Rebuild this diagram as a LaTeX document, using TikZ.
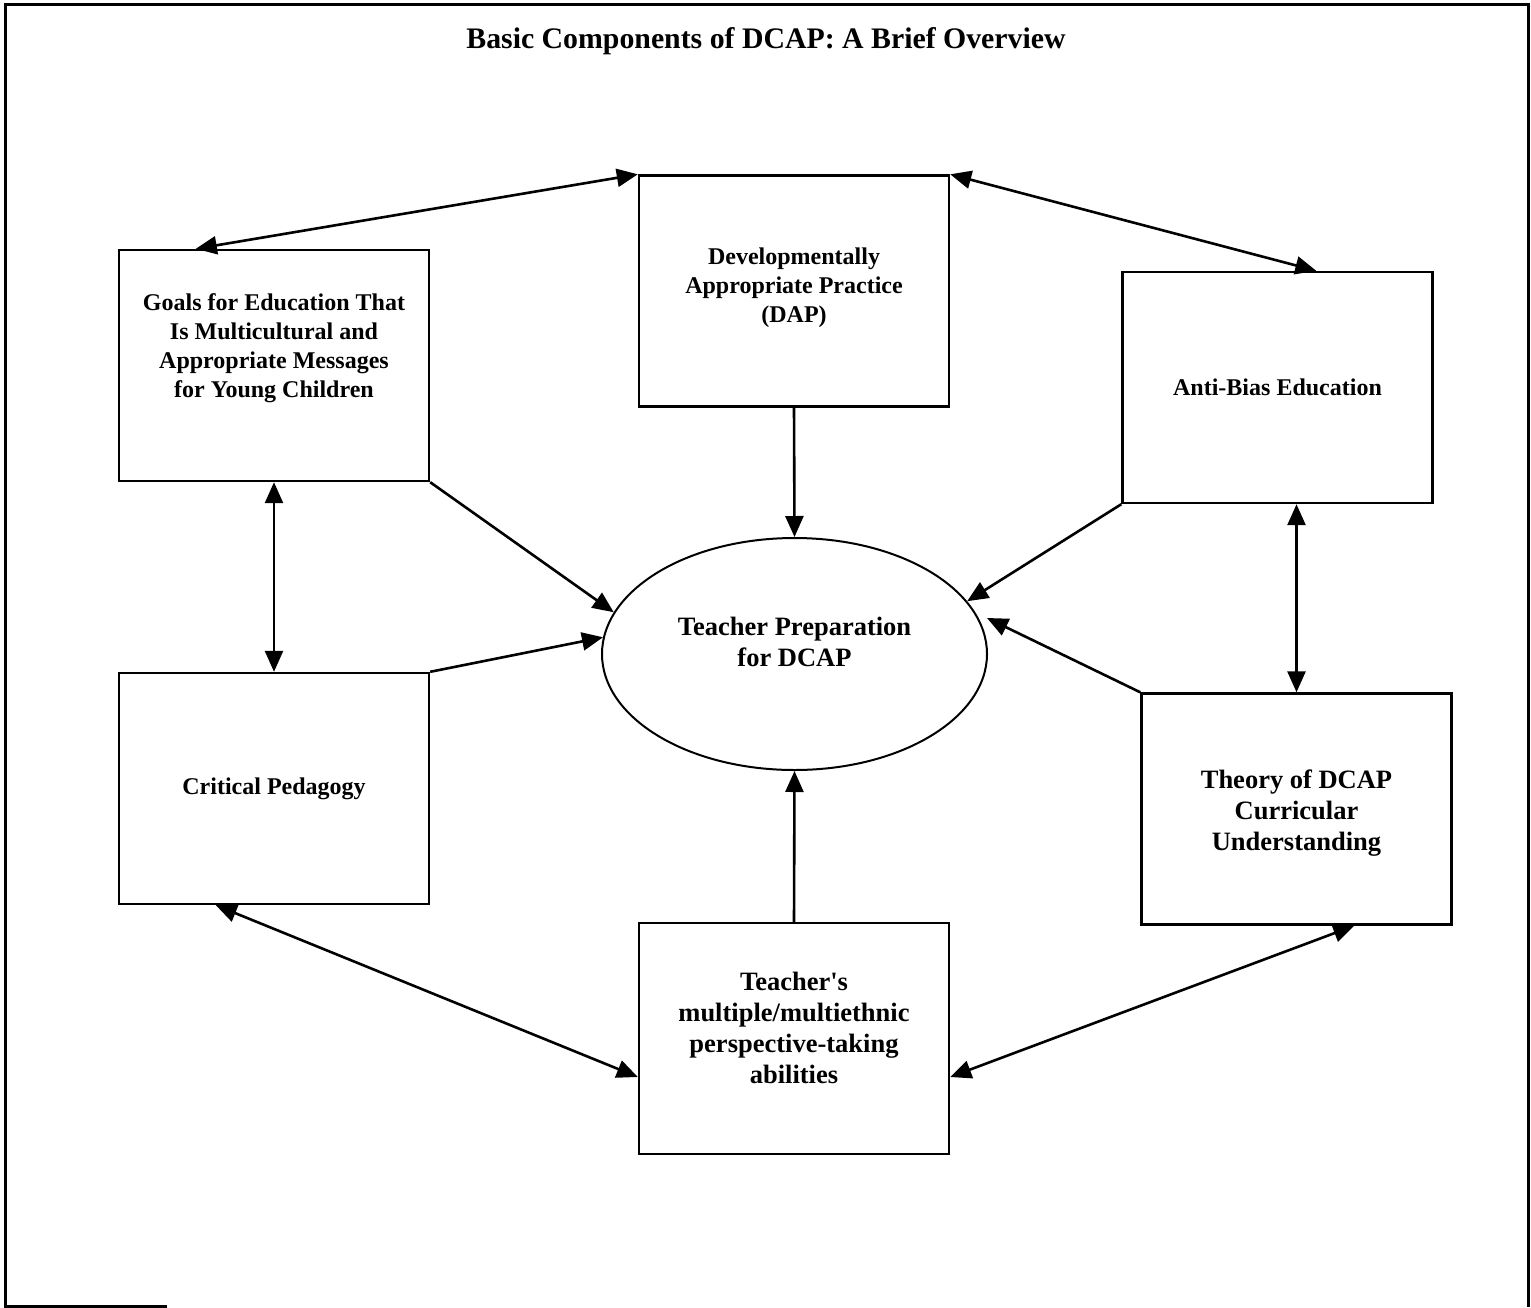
\documentclass[tikz,border=0pt]{standalone}
\usepackage{fontspec}
\setmainfont{Liberation Serif}
\usetikzlibrary{arrows.meta,shapes.geometric,calc}
\begin{document}
\begin{tikzpicture}[x=1pt,y=-1pt,
  box/.style={draw,line width=2.4pt,minimum width=310pt,minimum height=231pt,inner sep=0pt},
  sm/.style={font=\fontsize{24}{29}\selectfont\bfseries,align=center},
  lg/.style={font=\fontsize{26.5}{31}\selectfont\bfseries,align=center},
  arr/.style={line width=2.6pt,-{Triangle[length=21pt,width=18pt]}},
  darr/.style={line width=2.6pt,{Triangle[length=21pt,width=18pt]}-{Triangle[length=21pt,width=18pt]}}]

\useasboundingbox (0,0) rectangle (1531,1307);
\draw[line width=3pt] (167,1306) -- (5,1306) -- (5,4) -- (1528.5,4) -- (1528.5,1307);

\node[font=\fontsize{29.8}{34}\selectfont\bfseries] (title) at (766,41) {Basic Components of DCAP: A Brief Overview};

\node[box, label={[sm,yshift=17pt]center:{Goals for Education That\\Is Multicultural and\\Appropriate Messages\\for Young Children}}] (goals) at (274,365.5) {};
\node[box, label={[sm,yshift=3pt]center:{Developmentally\\Appropriate Practice\\(DAP)}}] (dap) at (794,291) {};
\node[box, label={[sm]center:{Anti-Bias Education}}] (ab) at (1277.5,387.5) {};
\node[box, label={[sm]center:{Critical Pedagogy}}] (crit) at (274,788.5) {};
\node[box, label={[lg,yshift=-4pt]center:{Theory of DCAP\\Curricular\\Understanding}}] (theory) at (1296.5,809) {};
\node[box, label={[lg,yshift=11pt]center:{Teacher\textquotesingle s\\multiple/multiethnic\\perspective-taking\\abilities}}] (teach) at (794,1038.5) {};
\node[ellipse, draw, line width=2pt, minimum width=385pt, minimum height=232pt, inner sep=0pt,
  label={[lg,yshift=12pt]center:{Teacher Preparation\\for DCAP}}] (ell) at (794.5,654) {};

\coordinate (tipT) at (987,618);

\draw[darr] ([xshift=78pt]goals.north west) -- (dap.north west);
\draw[darr] (dap.north east) -- ([xshift=195pt]ab.north west);
\draw[arr] (dap.south) -- (ell.north);
\draw[arr] (goals.south east) -- (ell.167.5);
\draw[arr] (crit.north east) -- (ell.175);
\draw[arr] (ab.south west) -- (ell.17.9);
\draw[arr] (theory.north west) -- (tipT);
\draw[darr] (goals.south) -- (crit.north);
\draw[darr] (ab.south -| theory.north) -- (theory.north);
\draw[darr] ([xshift=98pt]crit.south west) -- ([yshift=-38.5pt]teach.west);
\draw[darr] ([yshift=-38.5pt]teach.east) -- ([xshift=214pt]theory.south west);
\draw[arr] (teach.north) -- (ell.south);
\end{tikzpicture}
\end{document}
